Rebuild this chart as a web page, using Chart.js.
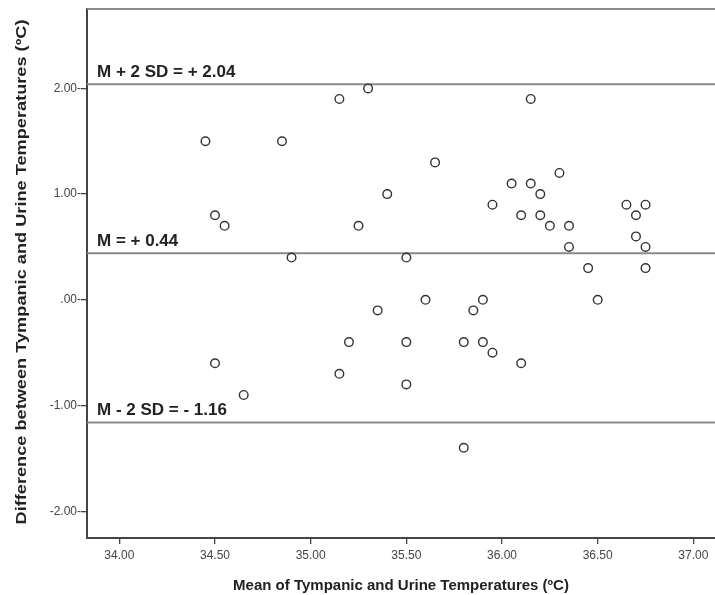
<!DOCTYPE html>
<html>
<head>
<meta charset="utf-8">
<script src="https://cdn.jsdelivr.net/npm/chart.js@4"></script>
<style>
  html, body { margin: 0; padding: 0; background: #fff; }
  #wrap { width: 715px; height: 595px; }
</style>
</head>
<body>
<div id="wrap"><canvas id="baChart" width="715" height="595"></canvas></div>
<script>
// mean of the two temperatures (x) and their difference (y)
const meanTemp = [34.45, 34.85, 35.15, 35.30, 36.15, 34.50, 34.55, 34.90, 35.25, 35.65,
                  35.40, 35.95, 36.05, 36.15, 36.20, 36.30, 36.10, 36.20, 36.25, 36.35,
                  36.35, 36.45, 36.65, 36.75, 36.70, 36.70, 36.75, 36.75, 35.50, 35.60,
                  35.90, 36.50, 35.35, 35.85, 35.50, 35.80, 35.90, 35.95, 36.10, 35.50,
                  35.80, 34.50, 34.65, 35.15, 35.20];
const diffTemp = [1.5, 1.5, 1.9, 2.0, 1.9, 0.8, 0.7, 0.4, 0.7, 1.3,
                  1.0, 0.9, 1.1, 1.1, 1.0, 1.2, 0.8, 0.8, 0.7, 0.7,
                  0.5, 0.3, 0.9, 0.9, 0.8, 0.6, 0.5, 0.3, 0.4, 0.0,
                  0.0, 0.0, -0.1, -0.1, -0.4, -0.4, -0.4, -0.5, -0.6, -0.8,
                  -1.4, -0.6, -0.9, -0.7, -0.4];

// limits of agreement
const refValues = [2.04, 0.44, -1.16];
const refLabels = ["M + 2 SD = + 2.04", "M = + 0.44", "M - 2 SD = - 1.16"];

const xTicks = [34.0, 34.5, 35.0, 35.5, 36.0, 36.5, 37.0];
const yTicks = [2, 1, 0, -1, -2];
const xRange = [33.831, 37.113];
const yRange = [-2.253, 2.751];

const yTitle = "Difference between Tympanic and Urine Temperatures (ºC)";
const fontFamily = "'Liberation Sans', Arial, sans-serif";

const points = meanTemp.map((m, i) => ({ x: m, y: diffTemp[i] }));

const refSets = refValues.map(v => ({
    type: "line",
    data: [{ x: xRange[0], y: v }, { x: xRange[1], y: v }],
    borderColor: "#8a8a8a",
    borderWidth: 2,
    pointRadius: 0,
    fill: false
}));

function fmt(v) {
    return v.toFixed(2).replace(/^(-?)0\./, "$1.");
}

// top frame line, text over each reference line, and the (stretched) y title
const refText = {
    id: "refText",
    afterDraw(chart) {
        const ctx = chart.ctx;
        const area = chart.chartArea;
        const y = chart.scales.y;
        ctx.save();
        ctx.strokeStyle = "#8a8a8a";
        ctx.lineWidth = 2;
        ctx.beginPath();
        ctx.moveTo(area.left, area.top);
        ctx.lineTo(area.right, area.top);
        ctx.stroke();

        ctx.fillStyle = "#222";
        ctx.font = "bold 17px " + fontFamily;
        ctx.textBaseline = "alphabetic";
        refValues.forEach((v, i) => {
            ctx.fillText(refLabels[i], area.left + 10, y.getPixelForValue(v) - 7);
        });

        // y title is drawn longer than the font would give, like the original
        ctx.font = "bold 15px " + fontFamily;
        const w = ctx.measureText(yTitle).width;
        ctx.translate(22, 272);
        ctx.rotate(-Math.PI / 2);
        ctx.scale(505 / w, 1);
        ctx.textAlign = "center";
        ctx.textBaseline = "middle";
        ctx.fillText(yTitle, 0, 0);
        ctx.restore();
    }
};

new Chart(document.getElementById("baChart"), {
    type: "scatter",
    data: {
        datasets: [
            {
                data: points,
                pointStyle: "circle",
                pointRadius: 4.3,
                pointBorderWidth: 1.4,
                borderColor: "#333",
                backgroundColor: "rgba(255,255,255,0)"
            },
            ...refSets
        ]
    },
    options: {
        responsive: false,
        animation: false,
        layout: { autoPadding: false, padding: { top: 9, right: 0, left: 0, bottom: 0 } },
        plugins: {
            legend: { display: false },
            tooltip: { enabled: false }
        },
        scales: {
            x: {
                type: "linear",
                min: xRange[0],
                max: xRange[1],
                afterBuildTicks: s => { s.ticks = xTicks.map(v => ({ value: v })); },
                afterFit: s => { s.height = 57; },
                grid: {
                    drawOnChartArea: false,
                    drawTicks: true,
                    tickLength: 6,
                    color: "#444",
                    lineWidth: 1.3
                },
                border: { color: "#444", width: 2 },
                ticks: {
                    callback: v => fmt(v),
                    color: "#444",
                    font: { family: fontFamily, size: 12 },
                    padding: 4,
                    maxRotation: 0
                },
                title: {
                    display: true,
                    text: "Mean of Tympanic and Urine Temperatures (ºC)",
                    color: "#222",
                    font: { family: fontFamily, size: 15, weight: "bold" },
                    padding: { top: 6, bottom: 0 }
                }
            },
            y: {
                type: "linear",
                min: yRange[0],
                max: yRange[1],
                afterBuildTicks: s => { s.ticks = yTicks.map(v => ({ value: v })); },
                afterFit: s => { s.width = 87; },
                grid: {
                    drawOnChartArea: false,
                    drawTicks: true,
                    tickLength: 6,
                    color: "#444",
                    lineWidth: 1.3
                },
                border: { color: "#444", width: 2 },
                ticks: {
                    callback: v => fmt(v) + "-",
                    color: "#444",
                    font: { family: fontFamily, size: 12 },
                    padding: 0
                }
            }
        }
    },
    plugins: [refText]
});
</script>
</body>
</html>
